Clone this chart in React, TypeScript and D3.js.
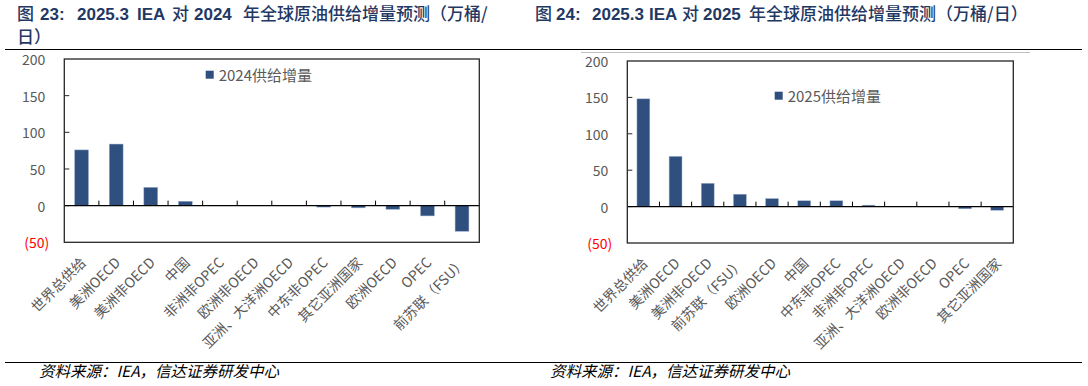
import React from "react";
import * as d3 from "d3";

const width = 1088;
const height = 386;

// left chart: 2024
const leftCategories = [
  "世界总供给",
  "美洲OECD",
  "美洲非OECD",
  "中国",
  "非洲非OPEC",
  "欧洲非OECD",
  "亚洲、大洋洲OECD",
  "中东非OPEC",
  "其它亚洲国家",
  "欧洲OECD",
  "OPEC",
  "前苏联（FSU）"
];
const leftValues = [76, 84, 25, 6, 0, 0, 0, -2, -3, -5, -14, -35];

// right chart: 2025
const rightCategories = [
  "世界总供给",
  "美洲OECD",
  "美洲非OECD",
  "前苏联（FSU）",
  "欧洲OECD",
  "中国",
  "中东非OPEC",
  "非洲非OPEC",
  "亚洲、大洋洲OECD",
  "欧洲非OECD",
  "OPEC",
  "其它亚洲国家"
];
const rightValues = [148, 69, 32, 17, 11, 8, 8, 2, 0, 0, -3, -5];

const yTicks = [200, 150, 100, 50, 0, -50];
const yDomain: [number, number] = [-50, 200];

const barColor = "#2F4F7E";
const grey = "#595959";
const navy = "#1F3864";
const cjk = "'Noto Sans CJK SC', 'Liberation Sans', sans-serif";
const latin = "'Liberation Sans', 'Noto Sans CJK SC', sans-serif";

const fmt = (v: number) => (v < 0 ? `(${Math.abs(v)})` : `${v}`);

type PanelProps = {
  categories: string[];
  values: number[];
  legend: string;
  left: number;
  right: number;
  top: number;
  bottom: number;
  legendX: number;
  legendY: number;
};

function Panel({ categories, values, legend, left, right, top, bottom, legendX, legendY }: PanelProps) {
  const x = d3
    .scaleBand<string>()
    .domain(categories)
    .range([left, right])
    .paddingInner(0.6)
    .paddingOuter(0.3);
  const y = d3.scaleLinear().domain(yDomain).range([bottom, top]);
  const step = x.step();
  const zero = y(0);

  return (
    <g>
      {/* y tick labels */}
      {yTicks.map(t => (
        <g key={t}>
          <text
            x={t < 0 ? left - 15 : left - 19}
            y={y(t)}
            textAnchor="end"
            dominantBaseline="central"
            fontFamily={cjk}
            fontSize={14}
            fill={t < 0 ? "#FF0000" : grey}
          >
            {fmt(t)}
          </text>
          {t < 200 && t > -50 && (
            <line x1={left} x2={left + 5} y1={y(t)} y2={y(t)} stroke="#262626" strokeWidth={1} />
          )}
        </g>
      ))}

      {/* bars */}
      {categories.map((c, i) => {
        const v = values[i];
        if (v === 0) return null;
        return (
          <rect
            key={c}
            x={x(c)}
            y={Math.min(y(v), zero)}
            width={x.bandwidth()}
            height={Math.abs(y(v) - zero)}
            fill={barColor}
            stroke="#9fb1cf"
            strokeWidth={0.5}
          />
        );
      })}

      {/* zero axis + category ticks */}
      <line x1={left} x2={right} y1={zero} y2={zero} stroke="#000" strokeWidth={1.2} />
      {d3.range(1, categories.length).map(i => (
        <line
          key={i}
          x1={left + step * i}
          x2={left + step * i}
          y1={zero}
          y2={zero - 5}
          stroke="#000"
          strokeWidth={1}
        />
      ))}

      {/* frame */}
      <rect x={left} y={top} width={right - left} height={bottom - top} fill="none" stroke="#262626" strokeWidth={1.3} />

      {/* legend */}
      <rect x={legendX} y={legendY - 4} width={8} height={8} fill={barColor} />
      <text
        x={legendX + 13}
        y={legendY}
        dominantBaseline="central"
        fontFamily={cjk}
        fontSize={15}
        fill={grey}
      >
        {legend}
      </text>

      {/* category labels */}
      {categories.map(c => {
        const cx = (x(c) as number) + x.bandwidth() / 2;
        return (
          <text
            key={c}
            transform={`translate(${cx + 1},${bottom + 17}) rotate(-45)`}
            textAnchor="end"
            dominantBaseline="central"
            fontFamily={cjk}
            fontSize={14}
            fill={grey}
          >
            {c}
          </text>
        );
      })}
    </g>
  );
}

export default function App() {
  const tb = { fontFamily: latin, fontWeight: 700, fontSize: 17, fill: navy };
  const tc = { fontFamily: cjk, fontWeight: 500, fontSize: 17, fill: navy };
  return (
    <svg
      width={width}
      height={height}
      style={{ position: "absolute", left: 0, top: 0, background: "#fff" }}
    >
      <rect width={width} height={height} fill="#fff" />

      {/* left title */}
      <text y={20}>
        <tspan x={17} {...tc}>图</tspan>
        <tspan x={40} {...tb}>23:</tspan>
        <tspan x={77} {...tb}>2025.3</tspan>
        <tspan x={137} {...tb}>IEA</tspan>
        <tspan x={172} {...tc}>对</tspan>
        <tspan x={194} {...tb}>2024</tspan>
        <tspan x={243} {...tc}>年全球原油供给增量预测（万桶/</tspan>
      </text>
      <text y={43} x={17} {...tc}>日）</text>

      {/* right title */}
      <text y={20}>
        <tspan x={535} {...tc}>图</tspan>
        <tspan x={556} {...tb}>24:</tspan>
        <tspan x={592} {...tb}>2025.3</tspan>
        <tspan x={649} {...tb}>IEA</tspan>
        <tspan x={682} {...tc}>对</tspan>
        <tspan x={703} {...tb}>2025</tspan>
        <tspan x={749} {...tc}>年全球原油供给增量预测（万桶/日）</tspan>
      </text>

      <line x1={5} x2={1082} y1={49.5} y2={49.5} stroke="#000" strokeWidth={1.2} />
      <line x1={581} x2={1030} y1={52.5} y2={52.5} stroke="#bfbfbf" strokeWidth={1} />

      <Panel
        categories={leftCategories}
        values={leftValues}
        legend="2024供给增量"
        left={64.3}
        right={479.3}
        top={59}
        bottom={242.3}
        legendX={205.7}
        legendY={74.7}
      />
      <Panel
        categories={rightCategories}
        values={rightValues}
        legend="2025供给增量"
        left={627.3}
        right={1013.3}
        top={61}
        bottom={243}
        legendX={774.7}
        legendY={95.7}
      />

      <line x1={5} x2={1082} y1={362.5} y2={362.5} stroke="#000" strokeWidth={1} />
      <text x={39} y={377} fontFamily={cjk} fontSize={15.5} fontStyle="italic" fill="#000">
        资料来源：IEA，信达证券研发中心
      </text>
      <text x={550} y={377} fontFamily={cjk} fontSize={15.5} fontStyle="italic" fill="#000">
        资料来源：IEA，信达证券研发中心
      </text>
    </svg>
  );
}
